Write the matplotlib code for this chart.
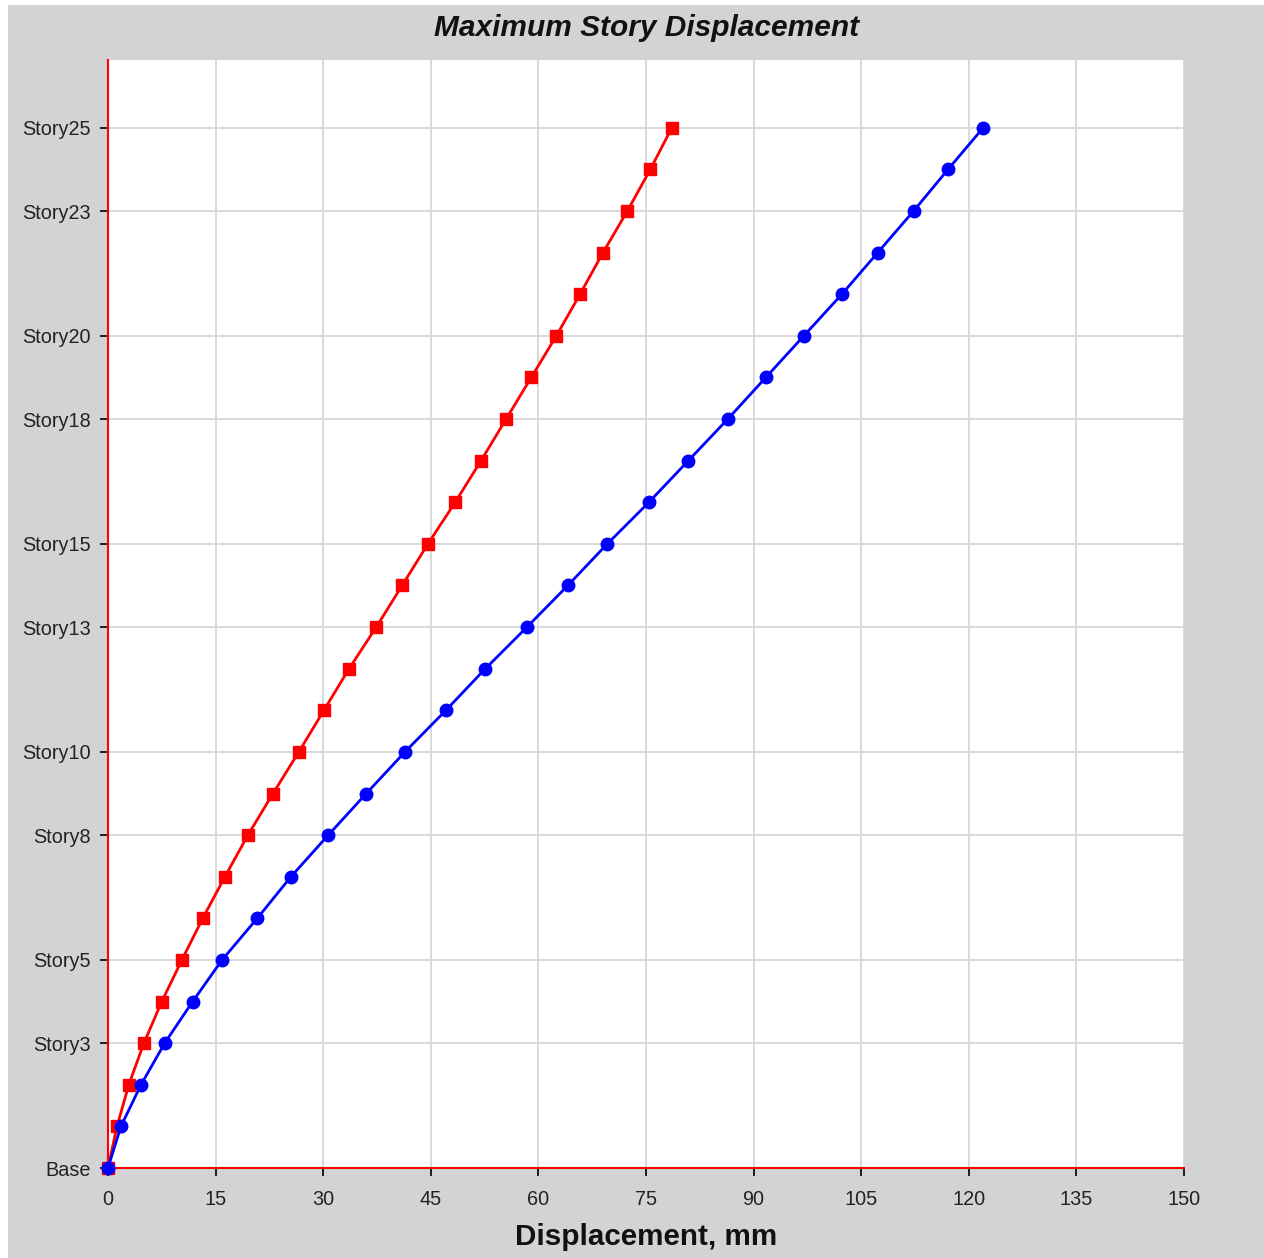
import matplotlib
matplotlib.use('Agg')
import matplotlib.pyplot as plt
from matplotlib.patches import Rectangle

# story levels 0 (Base) .. 25
stories = list(range(26))
disp_red = [0, 1.25, 2.9, 5.0, 7.5, 10.3, 13.2, 16.3, 19.5, 23.0, 26.6, 30.1, 33.6,
            37.4, 41.0, 44.6, 48.4, 52.0, 55.5, 59.0, 62.5, 65.8, 69.0, 72.4, 75.6, 78.6]
disp_blue = [0, 1.8, 4.6, 7.9, 11.8, 15.9, 20.8, 25.5, 30.7, 36.0, 41.4, 47.1, 52.6,
             58.4, 64.1, 69.6, 75.4, 80.9, 86.4, 91.7, 97.0, 102.3, 107.3, 112.3, 117.1, 122.0]

ytick_pos = [0, 3, 5, 8, 10, 13, 15, 18, 20, 23, 25]
ytick_lab = ['Base', 'Story3', 'Story5', 'Story8', 'Story10', 'Story13', 'Story15',
             'Story18', 'Story20', 'Story23', 'Story25']
xticks = list(range(0, 151, 15))

plt.rcParams['font.family'] = ['Liberation Sans', 'DejaVu Sans']

fig = plt.figure(figsize=(12.64, 12.58), dpi=100, facecolor='white')
fig.patches.append(Rectangle((8/1264, 0), 1, 1 - 5/1258, transform=fig.transFigure,
                             facecolor='#d3d3d3', edgecolor='none', zorder=-10))

ax = fig.add_axes([108/1264, 1 - 1168/1258, (1184-108)/1264, (1168-60)/1258])
ax.set_facecolor('white')

ax.plot(disp_red, stories, color='#ff0000', lw=2.0, marker='s', ms=8.5, clip_on=False, zorder=3)
ax.plot(disp_blue, stories, color='#0000ff', lw=2.0, marker='o', ms=9, clip_on=False, zorder=3)

ax.set_xlim(0, 150)
ax.set_ylim(0, 26.63)
ax.set_xticks(xticks)
ax.set_yticks(ytick_pos)
ax.set_yticklabels(ytick_lab)
ax.tick_params(axis='both', labelsize=14.3, colors='black', labelcolor='#222222',
               length=6, width=1.2, direction='out')
ax.tick_params(axis='y', pad=6.5)
ax.tick_params(axis='x', pad=10)
ax.grid(True, color='#d9d9d9', lw=1.4)
ax.set_axisbelow(True)

for s in ['top', 'right']:
    ax.spines[s].set_visible(False)
for s in ['left', 'bottom']:
    ax.spines[s].set_color('#ff0000')
    ax.spines[s].set_linewidth(1.5)

fig.text(647/1264, 1 - 28/1258, 'Maximum Story Displacement', ha='center', va='center',
         fontsize=21.5, fontweight='bold', fontstyle='italic', color='#111111')
fig.text(646/1264, 1 - 1237/1258, 'Displacement, mm', ha='center', va='center',
         fontsize=21.3, fontweight='bold', color='#111111')

fig.savefig('out.png', dpi=100, facecolor=fig.get_facecolor())
